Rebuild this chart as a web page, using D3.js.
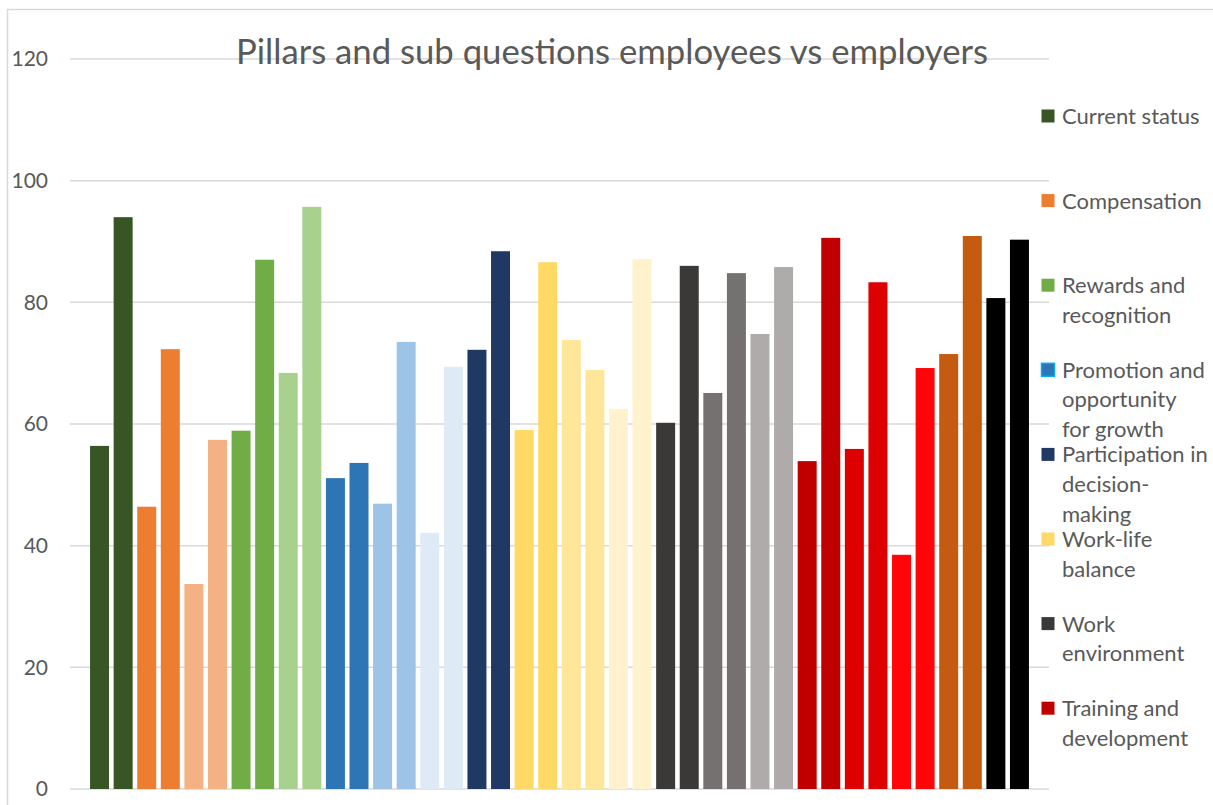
<!DOCTYPE html>
<html>
<head>
<meta charset="utf-8">
<script src="https://cdn.jsdelivr.net/npm/d3@7/dist/d3.min.js"></script>
<style>
  html, body { margin: 0; padding: 0; background: #fff; overflow: hidden; }
  svg { display: block; font-family: Lato, "Open Sans", sans-serif; }
</style>
</head>
<body>
<svg id="chart" width="1213" height="805"></svg>
<script>
// Scores per sub question, two bars (employees, employers) per question
const values = [
  56.4, 94.0, 46.4, 72.3, 33.7, 57.4, 58.9, 87.0, 68.4, 95.7,
  51.1, 53.6, 46.9, 73.5, 42.1, 69.4, 72.2, 88.4, 59.0, 86.6,
  73.8, 68.9, 62.5, 87.1, 60.2, 86.0, 65.1, 84.8, 74.8, 85.8,
  53.9, 90.6, 55.9, 83.3, 38.5, 69.2, 71.5, 90.9, 80.7, 90.3
];

// One colour per sub question pair
const pairColors = [
  "#375623", "#ED7D31", "#F4B183", "#70AD47", "#A9D18E",
  "#2E75B6", "#9DC3E6", "#DEEBF7", "#203864", "#FFD966",
  "#FFE699", "#FFF2CC", "#3B3838", "#767171", "#AFABAB",
  "#C00000", "#DE0000", "#FF0509", "#C55A11", "#000000"
];

// Legend: pillars
const pillars = [
  ["Current status"],
  ["Compensation"],
  ["Rewards and", "recognition"],
  ["Promotion and", "opportunity", "for growth"],
  ["Participation in", "decision-", "making"],
  ["Work-life", "balance"],
  ["Work", "environment"],
  ["Training and", "development"]
];
const pillarColors = ["#375623", "#ED7D31", "#70AD47", "#2E75B6", "#203864", "#FFD966", "#3B3838", "#C00000"];
const pillarStrokes = [null, null, null, "#00B0F0", null, null, null, null];

const yTicks = [0, 20, 40, 60, 80, 100, 120];
const title = "Pillars and sub questions employees vs employers";

const svg = d3.select("#chart");
const textColor = "#595959";
const gridColor = "#D9D9D9";

// Chart frame
svg.append("rect")
  .attr("x", 7.5).attr("y", 9.5)
  .attr("width", 1300).attr("height", 900)
  .attr("fill", "#fff")
  .attr("stroke", gridColor).attr("stroke-width", 1.5);

const plot = { left: 70, right: 1049, top: 59, bottom: 789 };

const x = d3.scaleBand()
  .domain(d3.range(values.length))
  .range([plot.left, plot.right])
  .paddingInner(0.195)
  .paddingOuter(0.85);

const y = d3.scaleLinear()
  .domain([0, 120])
  .range([plot.bottom, plot.top]);

// Gridlines
svg.append("g")
  .selectAll("line")
  .data(yTicks)
  .join("line")
  .attr("x1", plot.left).attr("x2", plot.right)
  .attr("y1", d => y(d)).attr("y2", d => y(d))
  .attr("stroke", gridColor).attr("stroke-width", 1.5);

// Y axis labels
const yAxis = d3.axisLeft(y).tickValues(yTicks).tickSize(0).tickPadding(0);
const gy = svg.append("g")
  .attr("transform", `translate(48,0)`)
  .call(yAxis);
gy.select(".domain").remove();
gy.selectAll("text")
  .attr("fill", textColor)
  .style("font-size", "21px")
  .style("font-family", "Lato, 'Open Sans', sans-serif");

// Bars
svg.append("g")
  .selectAll("rect")
  .data(values)
  .join("rect")
  .attr("x", (d, i) => x(i))
  .attr("width", x.bandwidth())
  .attr("y", d => y(d))
  .attr("height", d => y(0) - y(d))
  .attr("fill", (d, i) => pairColors[Math.floor(i / 2)]);

// Title
svg.append("text")
  .attr("x", 612)
  .attr("y", 64)
  .attr("text-anchor", "middle")
  .attr("fill", textColor)
  .style("font-size", "34.7px")
  .style("font-weight", 400)
  .text(title);

// Legend
const legendTop = 116, legendSlot = 84.6, lineGap = 29.6;
const lg = svg.append("g");
const entries = lg.selectAll("g")
  .data(pillars)
  .join("g")
  .attr("transform", (d, i) => `translate(1041,${legendTop + i * legendSlot})`);

entries.append("rect")
  .attr("x", 0.5).attr("y", -6.5)
  .attr("width", 13).attr("height", 13)
  .attr("fill", (d, i) => pillarColors[i])
  .attr("stroke", (d, i) => pillarStrokes[i] || "none")
  .attr("stroke-width", 1.5);

entries.append("text")
  .attr("x", 21)
  .attr("fill", textColor)
  .style("font-size", "22px")
  .selectAll("tspan")
  .data(d => d)
  .join("tspan")
  .attr("x", 21)
  .attr("y", (d, j) => j * lineGap)
  .attr("dy", "0.36em")
  .text(d => d);
</script>
</body>
</html>
